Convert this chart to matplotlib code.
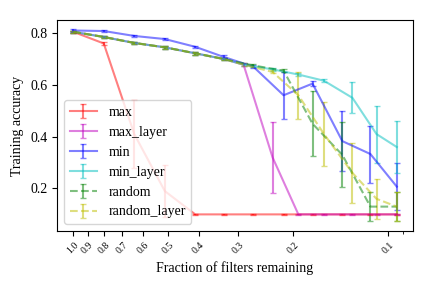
import numpy as np
import matplotlib
matplotlib.use("Agg")
import matplotlib.pyplot as plt
from matplotlib.ticker import NullFormatter

plt.rcParams['font.family'] = 'serif'
plt.rcParams['font.serif'] = ['Liberation Serif', 'DejaVu Serif']

# fraction of filters remaining
x_uniform = [1.0, 0.8, 0.64, 0.512, 0.41, 0.333, 0.268, 0.215, 0.174, 0.14, 0.114, 0.094]
x_layer = [1.0, 0.8, 0.64, 0.512, 0.41, 0.333, 0.288, 0.233, 0.193, 0.16, 0.13, 0.109, 0.094]

max_mean = [0.805, 0.76, 0.41, 0.19, 0.10, 0.10, 0.10, 0.10, 0.10, 0.10, 0.10, 0.10]
max_std = [0.004, 0.005, 0.13, 0.10, 0.002, 0.002, 0.002, 0.002, 0.002, 0.002, 0.002, 0.002]

max_layer_mean = [0.805, 0.785, 0.762, 0.745, 0.722, 0.70, 0.678, 0.32, 0.10, 0.10, 0.10, 0.10, 0.10]
max_layer_std = [0.004, 0.004, 0.005, 0.005, 0.005, 0.005, 0.006, 0.136, 0.002, 0.002, 0.002, 0.002, 0.002]

min_mean = [0.81, 0.808, 0.789, 0.777, 0.747, 0.708, 0.670, 0.56, 0.605, 0.383, 0.333, 0.207]
min_std = [0.004, 0.004, 0.005, 0.005, 0.005, 0.006, 0.006, 0.09, 0.01, 0.117, 0.11, 0.09]

min_layer_mean = [0.805, 0.785, 0.762, 0.745, 0.722, 0.70, 0.678, 0.66, 0.64, 0.616, 0.55, 0.41, 0.36]
min_layer_std = [0.004, 0.004, 0.005, 0.005, 0.005, 0.005, 0.006, 0.006, 0.006, 0.006, 0.06, 0.11, 0.10]

random_mean = [0.805, 0.785, 0.762, 0.745, 0.722, 0.70, 0.675, 0.655, 0.45, 0.33, 0.13, 0.13]
random_std = [0.004, 0.004, 0.005, 0.005, 0.005, 0.005, 0.006, 0.006, 0.125, 0.125, 0.057, 0.057]

random_layer_mean = [0.805, 0.785, 0.762, 0.745, 0.722, 0.70, 0.678, 0.65, 0.56, 0.41, 0.26, 0.16, 0.13]
random_layer_std = [0.004, 0.004, 0.005, 0.005, 0.005, 0.005, 0.006, 0.006, 0.09, 0.125, 0.117, 0.077, 0.055]

xticks = [1.0, 0.9, 0.8, 0.7, 0.6, 0.5, 0.4, 0.3, 0.2, 0.1]

fig, ax = plt.subplots(figsize=(4.32, 2.88), dpi=100)
fig.subplots_adjust(left=0.132, right=0.956, top=0.931, bottom=0.198)

ax.errorbar(x_uniform, max_mean, yerr=max_std, color='r', alpha=0.5, capsize=2, label='max')
ax.errorbar(x_layer, max_layer_mean, yerr=max_layer_std, color='m', alpha=0.5, capsize=2, label='max_layer')
ax.errorbar(x_uniform, min_mean, yerr=min_std, color='b', alpha=0.5, capsize=2, label='min')
ax.errorbar(x_layer, min_layer_mean, yerr=min_layer_std, color='c', alpha=0.5, capsize=2, label='min_layer')
ax.errorbar(x_uniform, random_mean, yerr=random_std, color='g', alpha=0.5, capsize=2, linestyle='--', label='random')
ax.errorbar(x_layer, random_layer_mean, yerr=random_layer_std, color='y', alpha=0.5, capsize=2, linestyle='--', label='random_layer')

ax.set_xscale('log')
ax.invert_xaxis()
ax.set_xticks(xticks)
ax.set_xticklabels([str(t) for t in xticks], rotation=45, fontsize=7)
ax.xaxis.set_minor_formatter(NullFormatter())
ax.set_xlabel('Fraction of filters remaining')
ax.set_ylabel('Training accuracy')
ax.legend(loc='lower left')

fig.savefig('out.png', dpi=100)
